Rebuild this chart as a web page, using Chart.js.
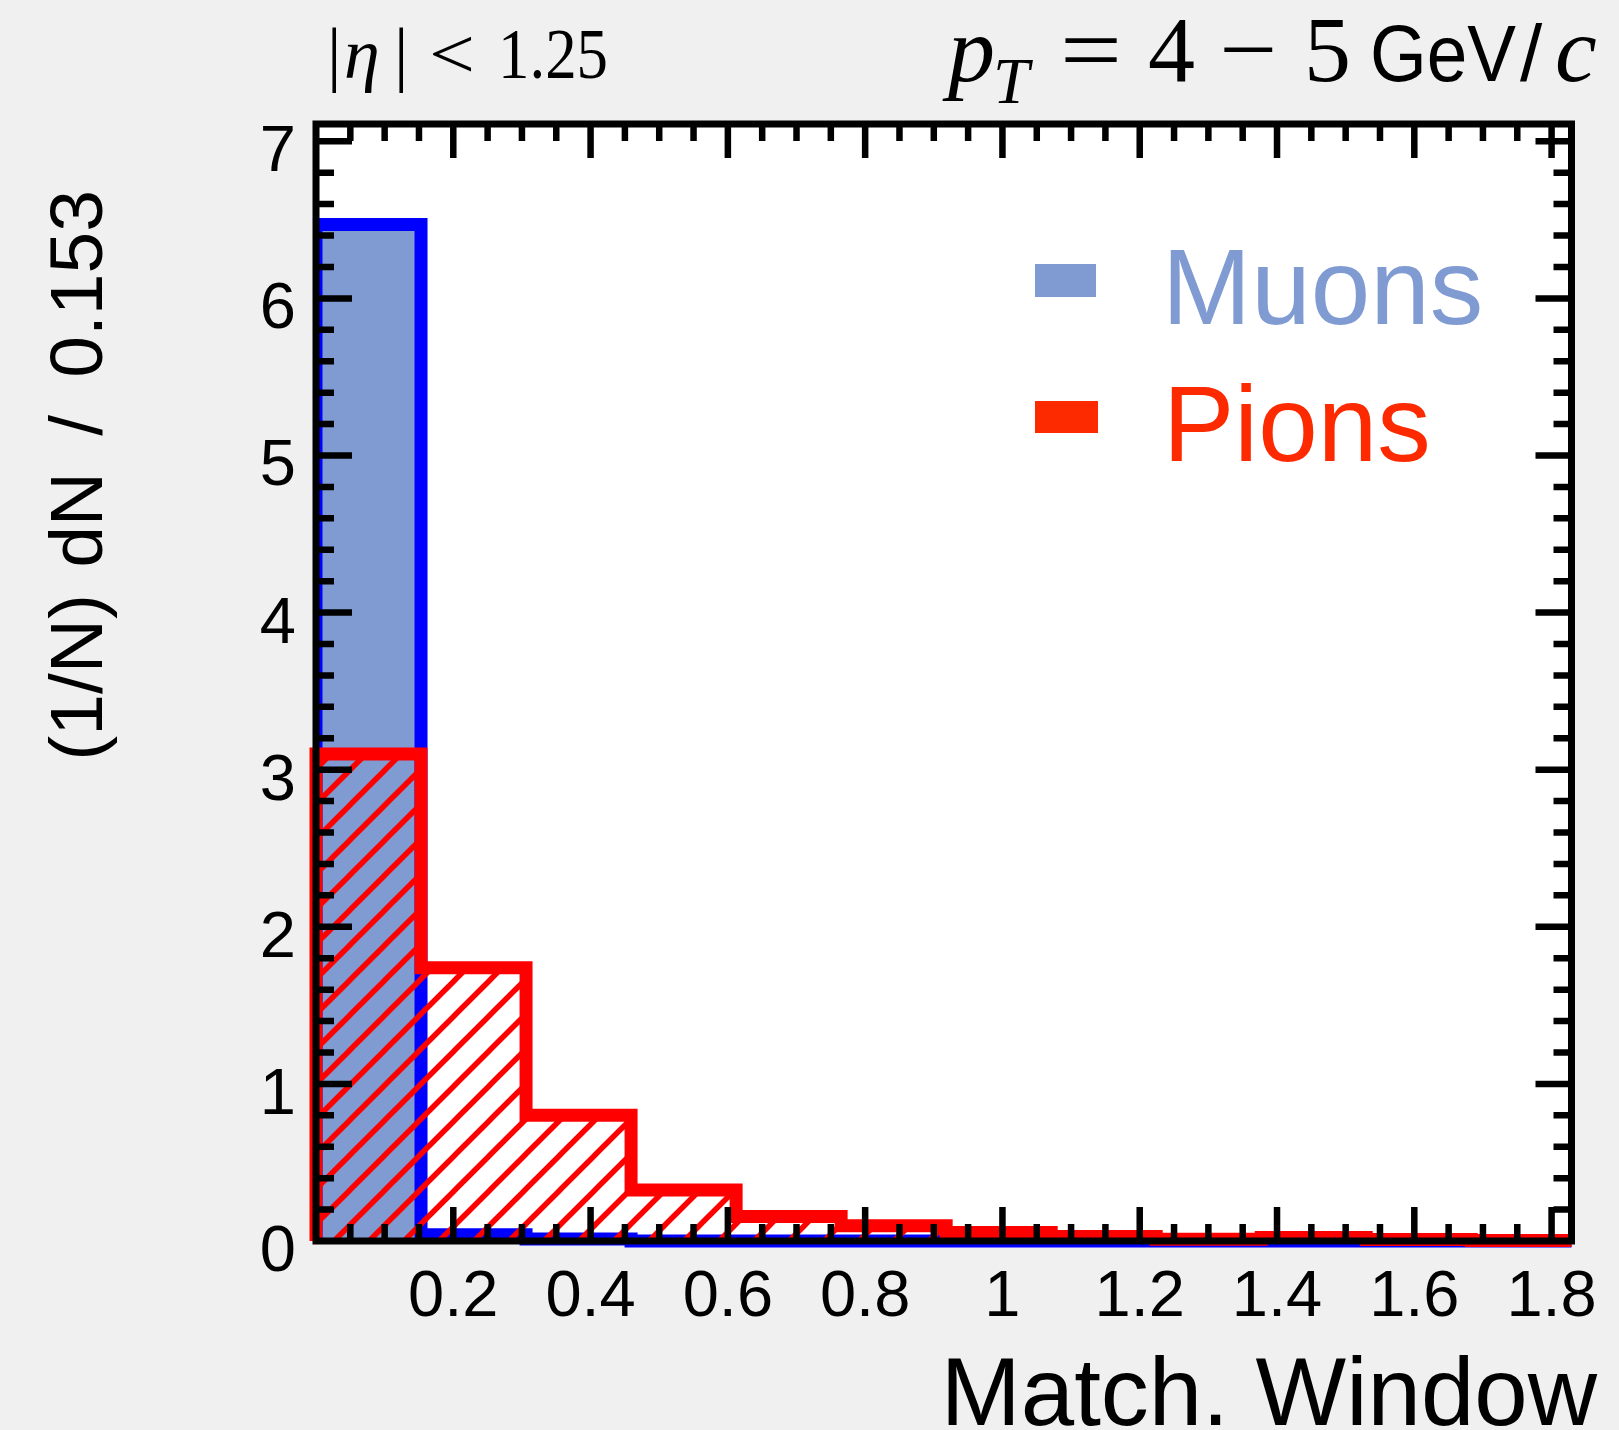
<!DOCTYPE html>
<html>
<head>
<meta charset="utf-8">
<script src="https://cdn.jsdelivr.net/npm/chart.js@4.4.1/dist/chart.umd.min.js"></script>
<style>
  html, body { margin: 0; padding: 0; background: #f0f0f0; }
  #wrap { width: 1619px; height: 1430px; }
</style>
</head>
<body>
<div id="wrap"><canvas id="myChart" width="1619" height="1430"></canvas></div>
<script>
// histogram bins (width 0.153) and normalised contents
let binEdges = [0, 0.153, 0.306, 0.459, 0.612, 0.765, 0.918, 1.071, 1.224, 1.377, 1.530, 1.683, 1.836]
let muons = [6.47, 0.04, 0.012, 0, 0, 0, 0, 0, 0, 0, 0, 0]
let pions = [3.10, 1.74, 0.80, 0.325, 0.156, 0.097, 0.054, 0.029, 0.011, 0.022, 0.010, 0.003]
let seriesNames = ['Muons', 'Pions']

let xTickValues = [0.2, 0.4, 0.6, 0.8, 1.0, 1.2, 1.4, 1.6, 1.8]
let xTickLabels = ['0.2', '0.4', '0.6', '0.8', '1', '1.2', '1.4', '1.6', '1.8']
let yTickValues = [0, 1, 2, 3, 4, 5, 6, 7]
let yTickLabels = ['0', '1', '2', '3', '4', '5', '6', '7']

const SANS = 'Liberation Sans'
const SERIF = 'Liberation Serif'
const muonFill = '#7f9bd2'
const pionLegend = '#fd2a00'

// stepped outline points: left edge, one point per bin, right edge
function histPoints(values) {
  let pts = [{x: binEdges[0], y: 0}]
  for (let i = 0; i < values.length; i++) pts.push({x: binEdges[i], y: values[i]})
  let last = binEdges[binEdges.length - 1]
  pts.push({x: last, y: values[values.length - 1]})
  pts.push({x: last, y: 0})
  return pts
}

// red "/" hatch like ROOT fill style 3004
function hatchPattern() {
  let c = document.createElement('canvas')
  c.width = 35
  c.height = 35
  let g = c.getContext('2d')
  g.strokeStyle = '#ff0000'
  g.lineWidth = 5.5
  for (let k of [-35, 0, 35]) {
    g.beginPath()
    g.moveTo(k - 10, 45)
    g.lineTo(k + 45, -10)
    g.stroke()
  }
  return g.createPattern(c, 'repeat')
}

function piece(ctx, text, font, x, y, w) {
  ctx.save()
  ctx.font = font
  ctx.translate(x, y)
  if (w) ctx.scale(w / ctx.measureText(text).width, 1)
  ctx.fillText(text, 0, 0)
  ctx.restore()
}

const framePlugin = {
  id: 'frame',
  beforeDraw(chart) {
    let a = chart.chartArea
    let ctx = chart.ctx
    ctx.save()
    ctx.fillStyle = '#ffffff'
    ctx.fillRect(a.left, a.top, a.right - a.left, a.bottom - a.top)
    ctx.restore()
  },
  afterDatasetsDraw(chart) {
    let ctx = chart.ctx
    let a = chart.chartArea
    let x = chart.scales.x
    let y = chart.scales.y
    ctx.save()
    ctx.strokeStyle = '#000000'
    ctx.lineCap = 'butt'
    ctx.lineWidth = 6.5
    ctx.beginPath()
    // x ticks, top and bottom, every 0.05, major every 0.2
    for (let i = 1; i * 0.05 <= x.max + 1e-9; i++) {
      let len = i % 4 == 0 ? 34 : 17
      let px = x.getPixelForValue(i * 0.05)
      ctx.moveTo(px, a.bottom); ctx.lineTo(px, a.bottom - len)
      ctx.moveTo(px, a.top); ctx.lineTo(px, a.top + len)
    }
    // y ticks, left and right, every 0.2, major every 1
    for (let i = 1; i * 0.2 <= y.max + 1e-9; i++) {
      let len = i % 5 == 0 ? 36 : 18
      let py = y.getPixelForValue(i * 0.2)
      ctx.moveTo(a.left, py); ctx.lineTo(a.left + len, py)
      ctx.moveTo(a.right, py); ctx.lineTo(a.right - len, py)
    }
    ctx.stroke()
    ctx.lineWidth = 7
    ctx.lineJoin = 'miter'
    ctx.strokeRect(a.left, a.top, a.right - a.left, a.bottom - a.top)
    ctx.restore()
  },
  afterDraw(chart) {
    let ctx = chart.ctx
    ctx.save()
    ctx.fillStyle = '#000000'
    ctx.textBaseline = 'alphabetic'
    ctx.textAlign = 'left'

    // top labels
    piece(ctx, '|', '72px ' + SERIF, 327, 78)
    piece(ctx, 'η', 'italic 72px ' + SERIF, 344, 78)
    piece(ctx, '|', '72px ' + SERIF, 394, 78)
    piece(ctx, '<', '72px ' + SERIF, 429, 78, 46)
    piece(ctx, '1.25', '72px ' + SERIF, 498, 78, 110)

    piece(ctx, 'p', 'italic 94px ' + SERIF, 948, 81)
    piece(ctx, 'T', 'italic 65px ' + SERIF, 993, 103)
    piece(ctx, '=', '94px ' + SERIF, 1060, 81, 62)
    piece(ctx, '4', '94px ' + SERIF, 1148, 81)
    piece(ctx, '\u2212', '94px ' + SERIF, 1219, 81, 58)
    piece(ctx, '5', '94px ' + SERIF, 1304, 81)
    piece(ctx, 'GeV', '80px ' + SANS, 1370, 81, 146)
    piece(ctx, '/', '80px ' + SANS, 1520, 81)
    piece(ctx, 'c', 'italic 94px ' + SERIF, 1555, 81)

    // axis titles
    ctx.font = '96px ' + SANS
    ctx.textAlign = 'right'
    ctx.fillText('Match. Window', 1597, 1425)
    ctx.save()
    ctx.translate(102, 0)
    ctx.rotate(-Math.PI / 2)
    ctx.font = '75px ' + SANS
    // pieces placed along the axis, each right-aligned at its top end
    ctx.fillText('0.153', -190, 0)
    ctx.fillText('/', -415, 0)
    ctx.fillText('dN', -472, 0)
    ctx.fillText('(1/N)', -594, 0)
    ctx.restore()

    // legend
    ctx.textAlign = 'left'
    ctx.font = '107px ' + SANS
    ctx.fillStyle = muonFill
    ctx.fillRect(1035, 264, 61, 33)
    ctx.fillText(chart.data.datasets[0].label, 1162, 324)
    ctx.fillStyle = pionLegend
    ctx.fillRect(1035, 401, 63, 32)
    ctx.fillText(chart.data.datasets[1].label, 1163, 461)
    ctx.restore()
  }
}

let ctx = document.getElementById('myChart').getContext('2d')
let graph = new Chart(ctx, {
  type: 'line',
  data: {
    datasets: [{
      label: seriesNames[0],
      data: histPoints(muons),
      borderColor: '#0000ff',
      backgroundColor: muonFill,
      borderWidth: 13,
      fill: 'origin',
      stepped: true,
      pointRadius: 0,
      order: 2,
      clip: {left: 0, top: 0, right: 0, bottom: 8}
    }, {
      label: seriesNames[1],
      data: histPoints(pions),
      borderColor: '#ff0000',
      backgroundColor: hatchPattern(),
      borderWidth: 13,
      fill: 'origin',
      stepped: true,
      pointRadius: 0,
      order: 1,
      clip: {left: 7, top: 0, right: 0, bottom: 8}
    }]
  },
  options: {
    responsive: false,
    animation: false,
    layout: {padding: {top: 124, right: 47.5, left: 0, bottom: 0}},
    plugins: {legend: {display: false}, tooltip: {enabled: false}},
    scales: {
      x: {
        type: 'linear',
        min: 0,
        max: 1.829,
        grid: {display: false},
        border: {display: false},
        afterFit: (s) => { s.height = 189 },
        afterBuildTicks: (s) => { s.ticks = xTickValues.map(v => ({value: v})) },
        ticks: {
          color: '#000000',
          padding: 10,
          maxRotation: 0,
          autoSkip: false,
          font: {family: SANS, size: 65},
          callback: (v) => xTickLabels[xTickValues.indexOf(v)]
        }
      },
      y: {
        min: 0,
        max: 7.11,
        grid: {display: false},
        border: {display: false},
        afterFit: (s) => { s.width = 316 },
        afterBuildTicks: (s) => { s.ticks = yTickValues.map(v => ({value: v})) },
        ticks: {
          color: '#000000',
          padding: 12,
          labelOffset: 12,
          autoSkip: false,
          font: {family: SANS, size: 65},
          callback: (v) => yTickLabels[yTickValues.indexOf(v)]
        }
      }
    }
  },
  plugins: [framePlugin]
})
</script>
</body>
</html>
